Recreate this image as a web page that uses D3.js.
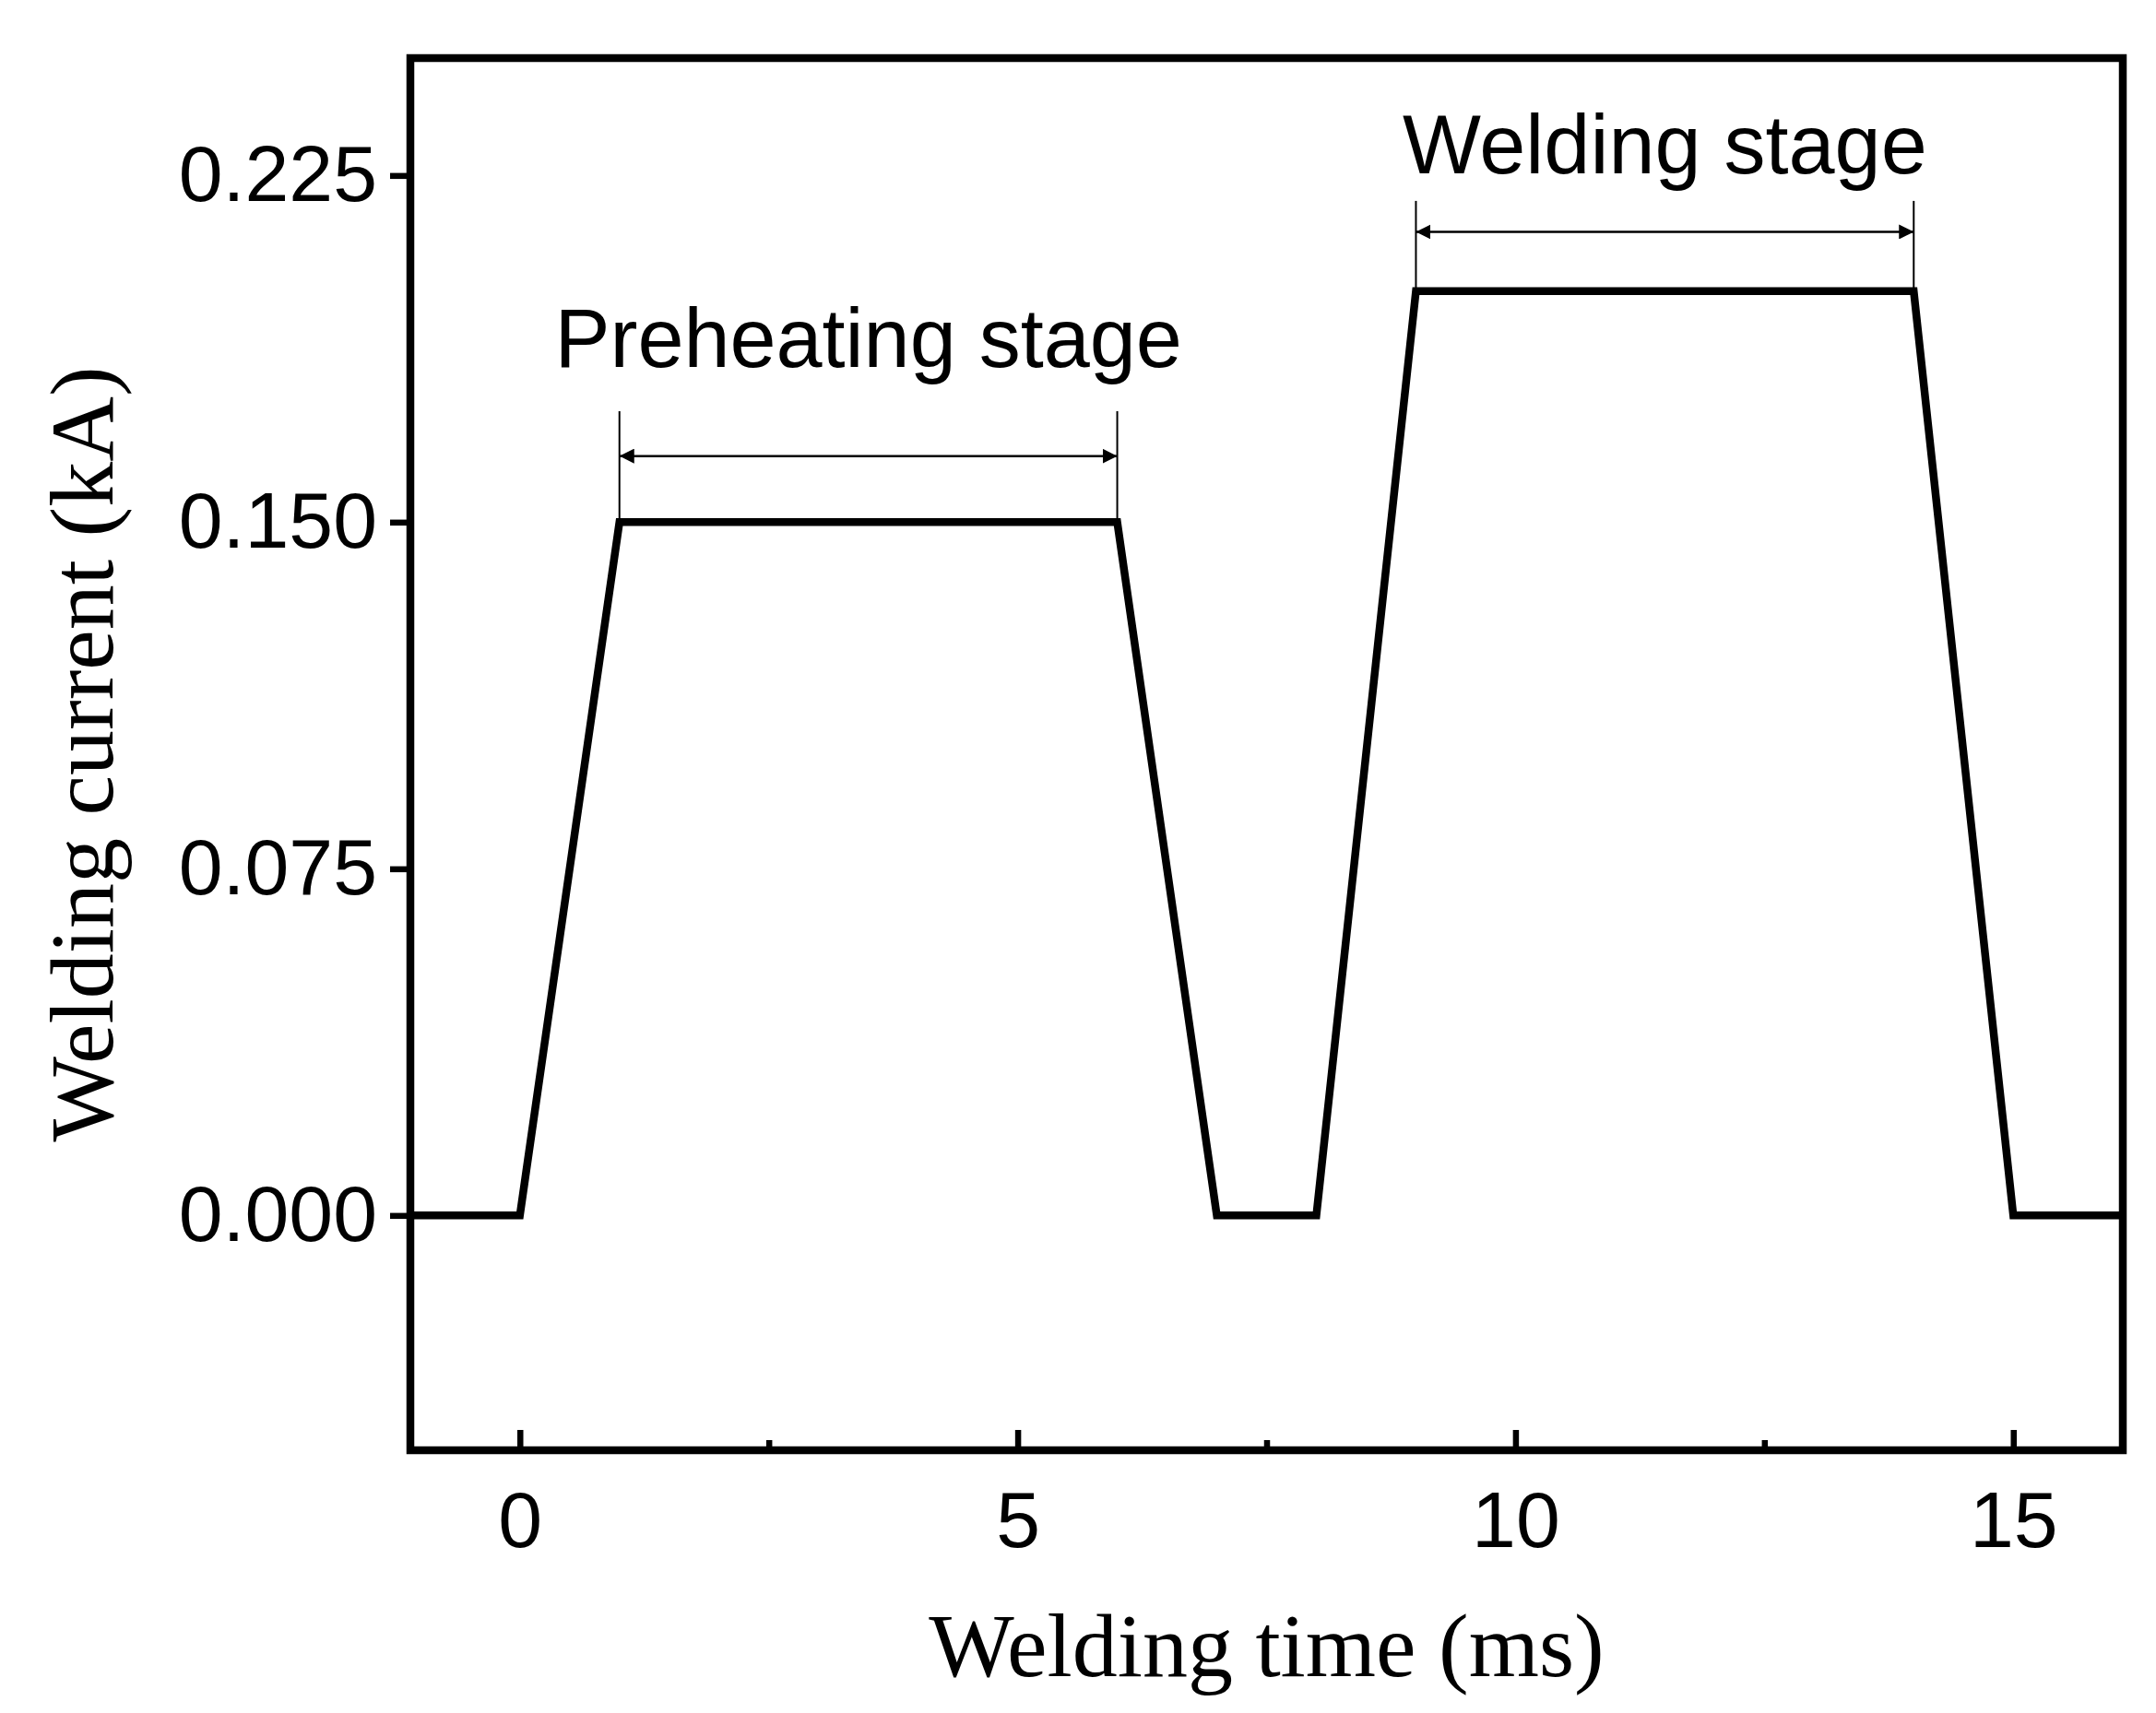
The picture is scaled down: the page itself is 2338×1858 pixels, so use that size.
<!DOCTYPE html><html><head><meta charset="utf-8"><script src="https://cdn.jsdelivr.net/npm/d3@7"></script>
<style>body{margin:0;background:#fff}</style></head><body><svg id="c" width="2338" height="1858"></svg><script>
const timeMs=[-1.1,0,1,6,7,8,9,14,15,16.1];
const currentKA=[0,0,0.15,0.15,0,0,0.2,0.2,0,0];
const xTicks=[0,5,10,15], xMinor=[2.5,7.5,12.5];
const yTicks=[0,0.075,0.15,0.225];
const svg=d3.select("#c");
const L=445,R=2302,T=63,B=1573;
const x=d3.scaleLinear().domain([-1.1,16.1]).range([L,R]);
const y=d3.scaleLinear().domain([-0.0508,0.2504]).range([B,T]);
svg.append("path").datum(timeMs.map((t,i)=>[t,currentKA[i]])).attr("d",d3.line().x(d=>x(d[0])).y(d=>y(d[1])))
 .attr("fill","none").attr("stroke","#000").attr("stroke-width",8.5).attr("stroke-linejoin","miter");
const ax=svg.append("g").attr("transform",`translate(0,${B})`).call(d3.axisBottom(x).tickValues(xTicks).tickSize(-22).tickPadding(44).tickFormat(d3.format("d")));
const axm=svg.append("g").attr("transform",`translate(0,${B})`).call(d3.axisBottom(x).tickValues(xMinor).tickSize(-11).tickFormat(""));
const ay=svg.append("g").attr("transform",`translate(${L},0)`).call(d3.axisLeft(y).tickValues(yTicks).tickSize(22).tickPadding(14).tickFormat(d3.format(".3f")));
[ax,axm,ay].forEach(g=>{g.select(".domain").remove();g.selectAll("line").attr("stroke-width",6.5);g.selectAll("text").attr("font-family","Liberation Sans, Arial").attr("font-size",86).attr("fill","#000");});
svg.append("rect").attr("x",L).attr("y",T).attr("width",R-L).attr("height",B-T).attr("fill","none").attr("stroke","#000").attr("stroke-width",8.5);
svg.append("text").attr("x",(L+R)/2).attr("y",1818).attr("text-anchor","middle").attr("font-family","Liberation Serif").attr("font-size",98).text("Welding time (ms)");
svg.append("text").attr("transform",`translate(122,${(T+B)/2}) rotate(-90)`).attr("text-anchor","middle").attr("font-family","Liberation Serif").attr("font-size",98).text("Welding current (kA)");
const defs=svg.append("defs");
defs.append("marker").attr("id","ah").attr("viewBox","0 0 10 10").attr("refX",10).attr("refY",5).attr("markerWidth",16).attr("markerHeight",16).attr("markerUnits","userSpaceOnUse").attr("orient","auto-start-reverse")
 .append("path").attr("d","M0,0L10,5L0,10z");
function ann(x0,x1,yv,yTop,yArr,label,yLab){
 [x0,x1].forEach(t=>svg.append("line").attr("x1",x(t)).attr("x2",x(t)).attr("y1",y(yTop)).attr("y2",y(yv)).attr("stroke","#000").attr("stroke-width",2));
 svg.append("line").attr("x1",x(x0)).attr("x2",x(x1)).attr("y1",y(yArr)).attr("y2",y(yArr)).attr("stroke","#000").attr("stroke-width",2.5).attr("marker-start","url(#ah)").attr("marker-end","url(#ah)");
 svg.append("text").attr("x",(x(x0)+x(x1))/2).attr("y",yLab).attr("text-anchor","middle").attr("font-family","Liberation Sans, Arial").attr("font-size",90).text(label);
}
ann(1,6,0.15,0.174,0.1643,"Preheating stage",398);
ann(9,14,0.2,0.2195,0.2128,"Welding stage",188);
</script></body></html>
